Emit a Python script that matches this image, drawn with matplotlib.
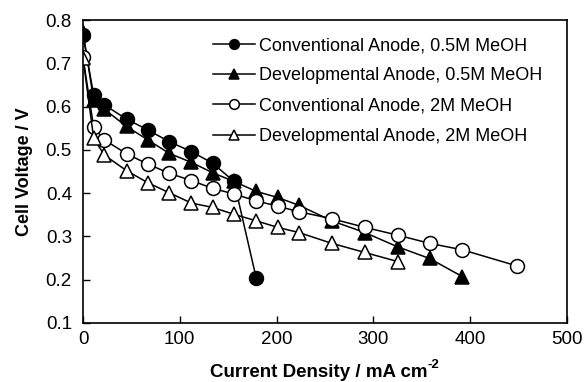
import matplotlib
matplotlib.use("Agg")
import matplotlib.pyplot as plt

plt.rcParams['font.family'] = ['Liberation Sans', 'DejaVu Sans']

labels = ["Conventional Anode, 0.5M MeOH",
          "Developmental Anode, 0.5M MeOH",
          "Conventional Anode, 2M MeOH",
          "Developmental Anode, 2M MeOH"]

x_conv05 = [0, 11, 22, 45, 67, 89, 112, 134, 156, 179]
v_conv05 = [0.765, 0.627, 0.604, 0.571, 0.546, 0.519, 0.496, 0.469, 0.427, 0.203]

x_dev05 = [0, 11, 22, 45, 67, 89, 112, 134, 156, 179, 201, 223, 257, 291, 325, 358, 392]
v_dev05 = [0.773, 0.615, 0.594, 0.554, 0.523, 0.492, 0.471, 0.447, 0.427, 0.404, 0.390,
           0.372, 0.336, 0.309, 0.276, 0.249, 0.207]

x_conv2 = [0, 11, 22, 45, 67, 89, 112, 134, 156, 179, 201, 223, 257, 291, 325, 358, 392, 448]
v_conv2 = [0.714, 0.552, 0.523, 0.491, 0.467, 0.446, 0.429, 0.411, 0.398, 0.382, 0.370,
           0.357, 0.341, 0.321, 0.303, 0.284, 0.269, 0.232]

x_dev2 = [0, 11, 22, 45, 67, 89, 112, 134, 156, 179, 201, 223, 257, 291, 325]
v_dev2 = [0.712, 0.527, 0.488, 0.452, 0.424, 0.401, 0.377, 0.367, 0.351, 0.336, 0.321,
          0.309, 0.284, 0.263, 0.242]

W, H = 587, 382
fig = plt.figure(figsize=(W / 100, H / 100), dpi=100)
ax = fig.add_axes([0.1414, 0.1545, 0.8246, 0.7931])

common = dict(color='black', lw=1.1, markersize=10, markeredgewidth=1.1, markeredgecolor='black')
ax.plot(x_conv05, v_conv05, marker='o', markerfacecolor='black', label=labels[0], **common)
ax.plot(x_dev05, v_dev05, marker='^', markerfacecolor='black', label=labels[1], **common)
ax.plot(x_conv2, v_conv2, marker='o', markerfacecolor='white', label=labels[2], **common)
ax.plot(x_dev2, v_dev2, marker='^', markerfacecolor='white', label=labels[3], **common)

ax.set_xlim(0, 500)
ax.set_ylim(0.1, 0.8)
ax.set_xticks([0, 100, 200, 300, 400, 500])
ax.set_yticks([0.1, 0.2, 0.3, 0.4, 0.5, 0.6, 0.7, 0.8])
ax.set_yticklabels(['0.1', '0.2', '0.3', '0.4', '0.5', '0.6', '0.7', '0.8'])
ax.tick_params(direction='in', length=5, width=1, labelsize=13.5,
               top=False, right=False)
ax.tick_params(axis='y', pad=8)
ax.tick_params(axis='x', pad=6)
for s in ax.spines.values():
    s.set_linewidth(1.2)

# x-axis label with a hyphen superscript, as in the original
fig.text(210 / W, 1 - 377 / H, 'Current Density / mA cm', ha='left', va='baseline',
         fontsize=13.5, fontweight='bold')
fig.text(428 / W, 1 - 368 / H, '-2', ha='left', va='baseline',
         fontsize=9.5, fontweight='bold')
ax.set_ylabel('Cell Voltage / V', fontsize=13, fontweight='bold', labelpad=9)

leg = ax.legend(loc='upper left', bbox_to_anchor=(0.2686, 0.943), frameon=False, fontsize=13,
                handlelength=2.3, handletextpad=0.25, labelspacing=0.73, borderaxespad=0,
                borderpad=0, markerscale=0.7)

fig.savefig('out.png', dpi=100)
